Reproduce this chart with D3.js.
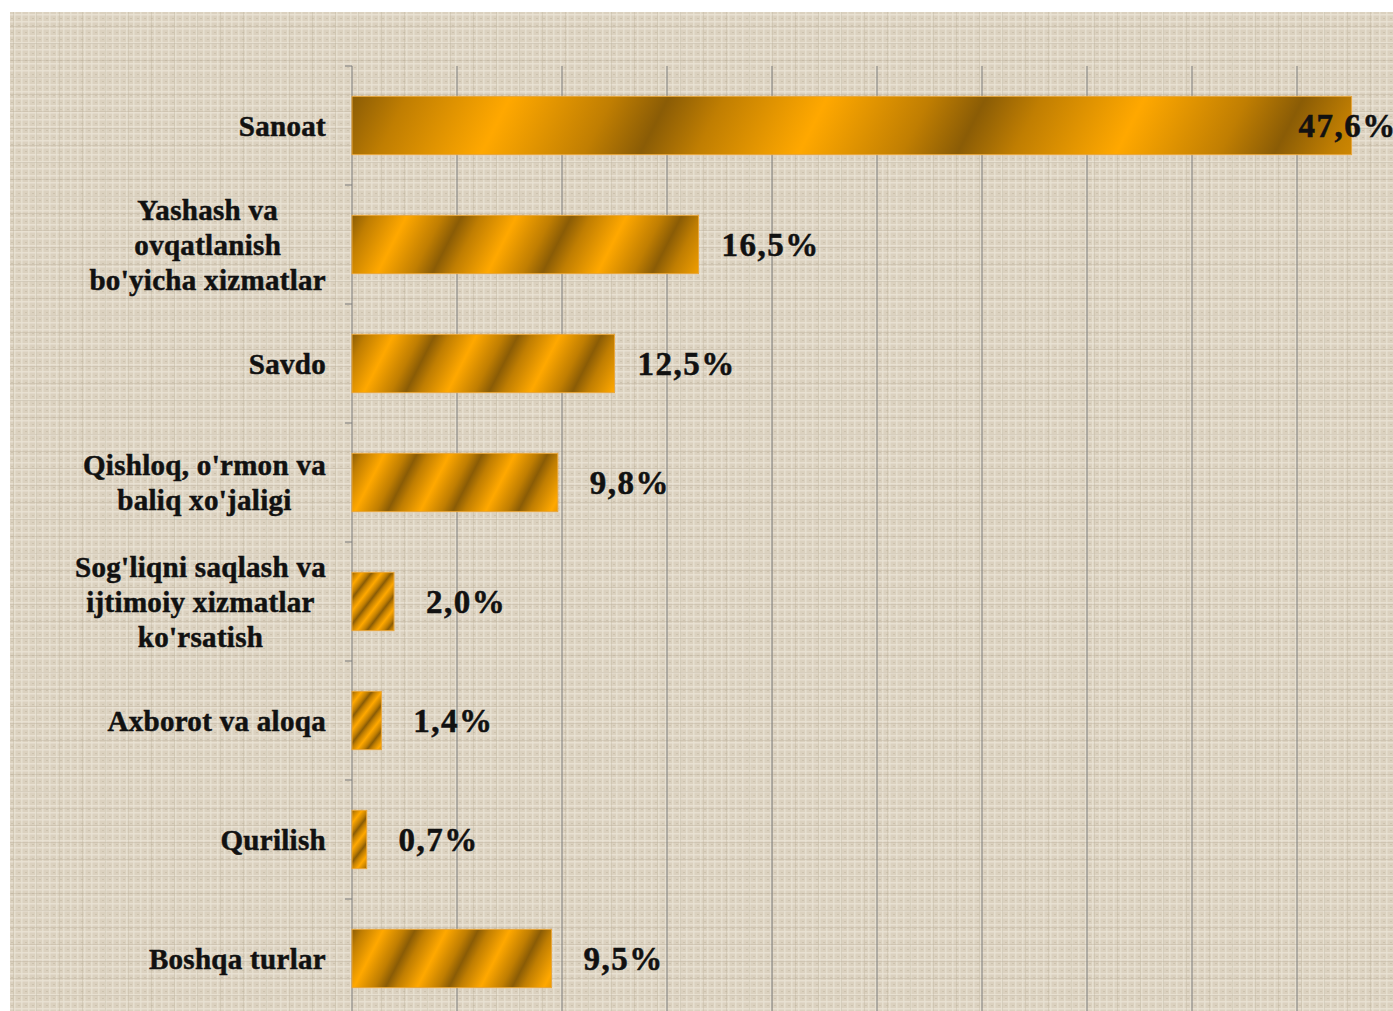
<!DOCTYPE html>
<html>
<head>
<meta charset="utf-8">
<script src="https://cdn.jsdelivr.net/npm/d3@7"></script>
<style>
  body { margin: 0; background: #ffffff; }
  text { font-family: "Liberation Serif", "Times New Roman", serif; font-weight: bold; fill: #111; stroke: #111; stroke-width: 0.5px; }
</style>
</head>
<body>
<script>
// categories (each one split in its display lines) and shares in %
var categories = [
  ["Sanoat"],
  ["Yashash va", "ovqatlanish", "bo'yicha xizmatlar"],
  ["Savdo"],
  ["Qishloq, o'rmon va", "baliq xo'jaligi"],
  ["Sog'liqni saqlash va", "ijtimoiy xizmatlar", "ko'rsatish"],
  ["Axborot va aloqa"],
  ["Qurilish"],
  ["Boshqa turlar"]
];
var values = [47.6, 16.5, 12.5, 9.8, 2.0, 1.4, 0.7, 9.5];
var gridTicks = [5, 10, 15, 20, 25, 30, 35, 40, 45];

var W = 1393, H = 1011;
// note: "top" is reserved on window, so plot edges get their own names
var plotLeft = 352, plotTop = 66, plotRight = 1402, plotBottom = 1018;

var svg = d3.select("body").append("svg")
  .attr("width", W)
  .attr("height", H);

var defs = svg.append("defs");

// linen-like texture for the background
var pat = defs.append("pattern")
  .attr("id", "linen")
  .attr("patternUnits", "userSpaceOnUse")
  .attr("width", 7)
  .attr("height", 7);
pat.append("rect").attr("width", 7).attr("height", 7).attr("fill", "#dbd1bf");
pat.append("rect").attr("x", 0).attr("y", 0).attr("width", 7).attr("height", 1.5).attr("fill", "#ebe4d6").attr("opacity", 0.8);
pat.append("rect").attr("x", 0).attr("y", 0).attr("width", 1.5).attr("height", 7).attr("fill", "#e9e2d3").attr("opacity", 0.8);
pat.append("rect").attr("x", 4).attr("y", 4).attr("width", 2).attr("height", 1).attr("fill", "#c2b7a3").attr("opacity", 0.6);

var pat2 = defs.append("pattern")
  .attr("id", "linen2")
  .attr("patternUnits", "userSpaceOnUse")
  .attr("width", 23)
  .attr("height", 17);
pat2.append("rect").attr("x", 0).attr("y", 9).attr("width", 23).attr("height", 1).attr("fill", "#b8ac96").attr("opacity", 0.35);
pat2.append("rect").attr("x", 13).attr("y", 0).attr("width", 1).attr("height", 17).attr("fill", "#b8ac96").attr("opacity", 0.3);

svg.append("rect")
  .attr("x", 10).attr("y", 12)
  .attr("width", W - 10).attr("height", H - 12)
  .attr("fill", "url(#linen)");
svg.append("rect")
  .attr("x", 10).attr("y", 12)
  .attr("width", W - 10).attr("height", H - 12)
  .attr("fill", "url(#linen2)");

// scales
var x = d3.scaleLinear().domain([0, 50]).range([plotLeft, plotRight]);
var y = d3.scaleBand()
  .domain(d3.range(categories.length))
  .range([plotTop, plotBottom])
  .paddingInner(0.51)
  .paddingOuter(0.255);

// vertical gridlines
svg.selectAll(".grid")
  .data(gridTicks)
  .enter()
  .append("line")
  .attr("class", "grid")
  .attr("x1", function(d) { return x(d); })
  .attr("x2", function(d) { return x(d); })
  .attr("y1", plotTop)
  .attr("y2", plotBottom)
  .attr("stroke", "#7c7c7c")
  .attr("stroke-width", 1);

// category axis line + boundary ticks
svg.append("line")
  .attr("x1", x(0)).attr("x2", x(0))
  .attr("y1", plotTop).attr("y2", plotBottom)
  .attr("stroke", "#7c7c7c");

svg.selectAll(".tick")
  .data(d3.range(categories.length + 1))
  .enter()
  .append("line")
  .attr("class", "tick")
  .attr("x1", x(0) - 7)
  .attr("x2", x(0))
  .attr("y1", function(i) { return plotTop + i * y.step(); })
  .attr("y2", function(i) { return plotTop + i * y.step(); })
  .attr("stroke", "#7c7c7c");

// diagonal striped gradient, one per bar
var bh = y.bandwidth();
values.forEach(function(v, i) {
  var x0 = x(0), y0 = y(i);
  var w = x(v) - x(0);
  var hp = Math.max(w / 6.3, 10);          // horizontal half period
  var s = w < 60 ? 45 : 30;               // slant of the stripes across the bar height
  var len = Math.sqrt(bh * bh + s * s);
  var q = hp * bh / len;                  // half period measured across the stripes
  defs.append("linearGradient")
    .attr("id", "stripe" + i)
    .attr("gradientUnits", "userSpaceOnUse")
    .attr("spreadMethod", "reflect")
    .attr("x1", x0)
    .attr("y1", y0)
    .attr("x2", x0 + q * bh / len)
    .attr("y2", y0 + q * s / len)
    .selectAll("stop")
    .data([["0%", "#8a5c06"], ["35%", "#c07e02"], ["100%", "#ffa800"]])
    .enter()
    .append("stop")
    .attr("offset", function(d) { return d[0]; })
    .attr("stop-color", function(d) { return d[1]; });
});

// bars
svg.selectAll(".bar")
  .data(values)
  .enter()
  .append("rect")
  .attr("class", "bar")
  .attr("x", x(0))
  .attr("y", function(d, i) { return y(i); })
  .attr("width", function(d) { return x(d) - x(0); })
  .attr("height", bh)
  .attr("fill", function(d, i) { return "url(#stripe" + i + ")"; })
  .attr("stroke", "#e8a63c")
  .attr("stroke-width", 1);

// value labels
var fmt = function(d) { return d3.format(".1f")(d).replace(".", ",") + "%"; };
svg.selectAll(".val")
  .data(values)
  .enter()
  .append("text")
  .attr("class", "val")
  .attr("x", function(d) {
    var px = x(d) + 72;
    return px + 50 > W ? x(d) - 4 : px;
  })
  .attr("y", function(d, i) { return y(i) + bh / 2; })
  .attr("dy", "0.35em")
  .attr("text-anchor", "middle")
  .attr("font-size", "33px")
  .attr("letter-spacing", "1.5px")
  .text(fmt);

// category labels: lines centred on each other, block right aligned at the axis
var lineH = 35;
categories.forEach(function(lines, i) {
  var g = svg.append("g");
  var cy = y(i) + bh / 2;
  var t = g.selectAll("text")
    .data(lines)
    .enter()
    .append("text")
    .attr("font-size", "29px")
    .attr("letter-spacing", "0.3px")
    .attr("text-anchor", "middle")
    .attr("y", function(d, k) { return cy + (k - (lines.length - 1) / 2) * lineH; })
    .attr("dy", "0.35em")
    .text(function(d) { return d; });
  var maxW = 0;
  t.each(function() { maxW = Math.max(maxW, this.getComputedTextLength()); });
  t.attr("x", 326 - maxW / 2);
});
</script>
</body>
</html>
